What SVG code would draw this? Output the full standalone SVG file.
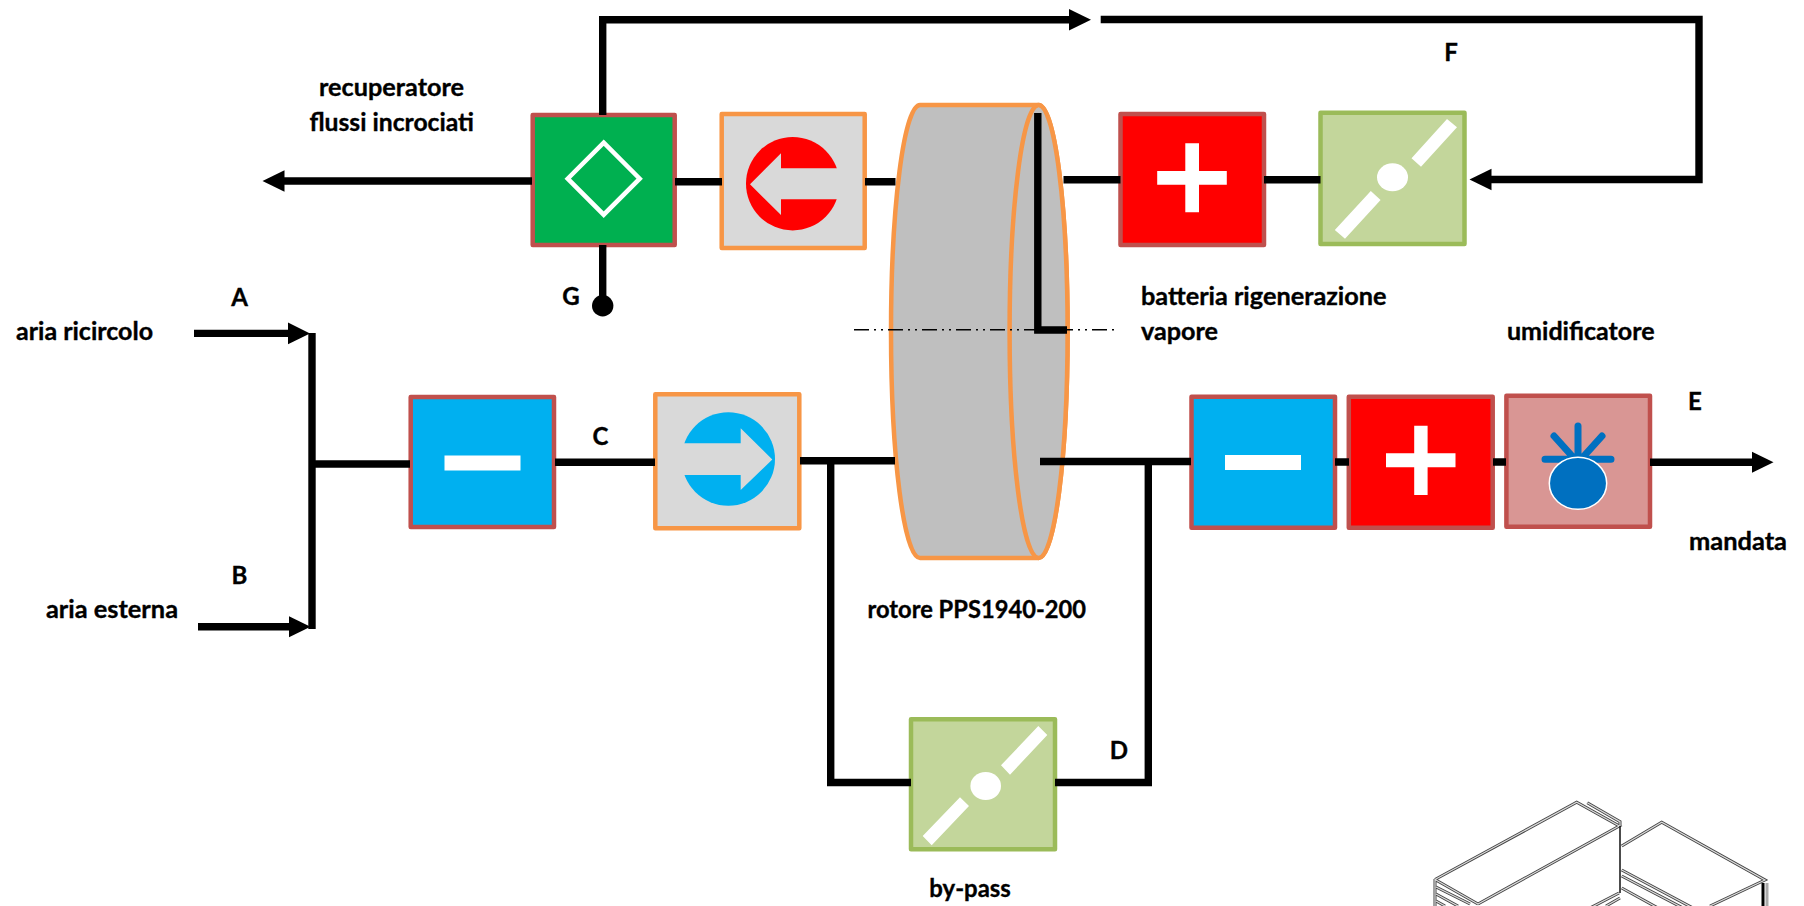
<svg xmlns="http://www.w3.org/2000/svg" width="1804" height="906" viewBox="0 0 1804 906">
<style>
.t{font-family:Lato,"Liberation Sans",sans-serif;font-weight:700;font-size:24px;fill:#000;stroke:#000;stroke-width:.35}
.m{text-anchor:middle}
.c{fill:none;stroke:#000;stroke-width:7.4;stroke-linejoin:miter}
rect{stroke-linejoin:round}
.red{stroke:#C0504D;stroke-width:4.5}
.org{stroke:#F79646;stroke-width:4.5;fill:#D9D9D9}
.grn{stroke:#9BBB59;stroke-width:4.5;fill:#C3D69B}
.w{fill:#fff}
.h{fill:none;stroke:#0070C0;stroke-width:7;stroke-linecap:round}
.iso{fill:none;stroke:#444;stroke-width:3}
.iso2{fill:none;stroke:#ddd;stroke-width:1.2}
</style>
<defs>
<marker id="ah" markerUnits="userSpaceOnUse" markerWidth="23" markerHeight="23" refX="0.5" refY="11.5" orient="auto"><path d="M0,0.7 L22,11.5 L0,22.3 Z" fill="#000"/></marker>
<path id="isoLines" d="M1435,879.5 L1576.7,802.3 L1619.3,826 L1478,904 M1435,879.5 L1478,904 M1587.3,802.7 L1620,821.7 V826 M1435,879 V906 M1436,887 L1470,904 M1436,894 L1458,906 M1436,901 L1445,906 M1621.7,846 L1661.7,822.3 L1765,880 L1710,906 M1621.7,870 L1693,908 M1621.7,876 L1683,908 M1619,893 L1590,908 M1620,898 L1606,906 M1621.7,888 L1658,908"/>
</defs>

<g id="machine"><use href="#isoLines" class="iso"/><use href="#isoLines" class="iso2"/><path d="M1620,826 V893" fill="none" stroke="#111" stroke-width="1.5"/><path d="M1763,883 V906" fill="none" stroke="#000" stroke-width="3"/><path d="M1767,883 V906" fill="none" stroke="#aaa" stroke-width="3"/></g>

<g id="node-recuperatore">
<rect x="532.7" y="115" width="142" height="130" fill="#00B050" class="red"/>
<path d="M603.7,142.7 L639.7,178.7 L603.7,214.7 L567.7,178.7 Z" fill="none" stroke="#fff" stroke-width="4.5"/>
</g>
<g id="node-ventilatore-ripresa">
<rect x="721.7" y="114" width="143" height="134" class="org"/>
<circle cx="792.7" cy="183.7" r="46.7" fill="#f00"/>
<path d="M750,184.3 L781,153.3 V168.3 H845 V199.3 H781 V215 Z" fill="#D9D9D9"/>
</g>
<g id="node-rotore">
<path d="M920,105 H1038.6 A29,226.5 0 0 1 1038.6,558 H920 A29,226.5 0 0 1 920,105 Z" fill="#BFBFBF" stroke="#F79646" stroke-width="4.5"/>
<ellipse cx="1038.6" cy="331.5" rx="29" ry="226.5" fill="#BFBFBF" stroke="#F79646" stroke-width="4.5"/>
</g>
<g id="node-batteria-rigenerazione">
<rect x="1120.5" y="114" width="143.5" height="131" fill="#f00" class="red"/>
<path class="w" d="M1185.3,143.3 H1199 V171 H1226.8 V184.7 H1199 V212.3 H1185.3 V184.7 H1157.2 V171 H1185.3 Z"/>
</g>
<g id="node-serranda-f">
<rect x="1320.5" y="112.7" width="144" height="131.3" class="grn"/>
<ellipse class="w" cx="1392.5" cy="177.3" rx="15.5" ry="14"/>
<path class="w" d="M1447,119 L1457,127.3 L1421,166.7 L1411.5,158.3 Z M1370.8,191 L1380.6,200 L1345,238.7 L1334.8,230 Z"/>
</g>
<g id="node-raffreddamento-1">
<rect x="410.7" y="397" width="143.3" height="130" fill="#00B0F0" class="red"/>
<rect class="w" x="444.5" y="455.5" width="76" height="15"/>
</g>
<g id="node-ventilatore-mandata">
<rect x="655.3" y="394.3" width="144" height="134" class="org"/>
<circle cx="728.3" cy="459" r="46.7" fill="#00B0F0"/>
<path d="M772.3,459.5 L740.7,428.3 V443.3 H680 V475 H740.7 V490 Z" fill="#D9D9D9"/>
</g>
<g id="node-raffreddamento-2">
<rect x="1191.5" y="396.7" width="143.5" height="131" fill="#00B0F0" class="red"/>
<rect class="w" x="1225" y="455" width="76" height="15"/>
</g>
<g id="node-postriscaldamento">
<rect x="1348.8" y="396.7" width="143.9" height="131" fill="#f00" class="red"/>
<path class="w" d="M1414.2,425.7 H1427.6 V453.3 H1455.5 V467.3 H1427.6 V495 H1414.2 V467.3 H1386 V453.3 H1414.2 Z"/>
</g>
<g id="node-umidificatore">
<rect x="1506.4" y="395.7" width="143.6" height="131" fill="#D99694" class="red"/>
<path class="h" d="M1578,426 V456 M1554,436 L1572,456 M1602,436 L1584,456 M1545,459.3 H1611"/>
<ellipse cx="1578" cy="483.3" rx="28.7" ry="26" fill="#0070C0" stroke="#fff" stroke-width="1.5"/>
</g>
<g id="node-bypass">
<rect x="911" y="719.3" width="144" height="130" class="grn"/>
<ellipse class="w" cx="985.7" cy="786" rx="15.3" ry="14"/>
<path class="w" d="M1038.3,726 L1047.3,735 L1010,774.7 L1001,765.3 Z M960,797.3 L969,806 L931.7,845.3 L922.7,836 Z"/>
</g>

<g id="connectors">
<path class="c" d="M194,333.4 H288.5" marker-end="url(#ah)"/>
<path class="c" d="M198,626.7 H289" marker-end="url(#ah)"/>
<path class="c" d="M312,333 V629"/>
<path class="c" d="M312,464 H410"/>
<path class="c" d="M555,462.3 H655"/>
<path class="c" d="M800,460.7 H895"/>
<path class="c" d="M830.7,461 V782.5 H911"/>
<path class="c" d="M1040,461.5 H1191"/>
<path class="c" d="M1148.3,461.5 V782.5 H1055"/>
<path class="c" d="M1335,462 H1349 M1493,462 H1506"/>
<path class="c" d="M1650,462.3 H1752" marker-end="url(#ah)"/>
<path class="c" d="M532,181 H284" marker-end="url(#ah)"/>
<path class="c" d="M675,181.7 H722 M865,181.7 H895.5"/>
<path class="c" d="M1063.5,179.7 H1120.5 M1264,179.7 H1320.5"/>
<path class="c" d="M602.7,115 V19.7 H1069.5" marker-end="url(#ah)"/>
<path class="c" d="M1100.7,19.5 H1699 V179.5 H1491" marker-end="url(#ah)"/>
<path class="c" d="M602.7,245 V296"/>
<circle cx="602.7" cy="305.7" r="10.7" fill="#000"/>
<path d="M854,329.7 H1114" fill="none" stroke="#000" stroke-width="1.5" stroke-dasharray="15 5 2 5 2 5"/>
<path class="c" d="M1037.8,113 V330 H1067"/>
</g>

<g id="labels">
<text class="t" x="319" y="96" textLength="145" lengthAdjust="spacingAndGlyphs">recuperatore</text>
<text class="t" x="309.5" y="131" textLength="164.5" lengthAdjust="spacingAndGlyphs">flussi incrociati</text>
<text class="t m" x="239.5" y="306">A</text>
<text class="t m" x="239.5" y="584">B</text>
<text class="t m" x="600.5" y="445">C</text>
<text class="t m" x="1119" y="759">D</text>
<text class="t m" x="1695" y="410">E</text>
<text class="t m" x="1451" y="61">F</text>
<text class="t m" x="571" y="305">G</text>
<text class="t" x="16" y="340" textLength="137" lengthAdjust="spacingAndGlyphs">aria ricircolo</text>
<text class="t" x="46" y="618" textLength="132" lengthAdjust="spacingAndGlyphs">aria esterna</text>
<text class="t" x="1141" y="305" textLength="245.5" lengthAdjust="spacingAndGlyphs">batteria rigenerazione</text>
<text class="t" x="1141" y="340" textLength="77" lengthAdjust="spacingAndGlyphs">vapore</text>
<text class="t" x="1507" y="340" textLength="147.5" lengthAdjust="spacingAndGlyphs">umidificatore</text>
<text class="t" x="1689" y="550" textLength="98" lengthAdjust="spacingAndGlyphs">mandata</text>
<text class="t" x="867.5" y="618" textLength="218.5" lengthAdjust="spacingAndGlyphs">rotore PPS1940-200</text>
<text class="t" x="929.3" y="897" textLength="81.5" lengthAdjust="spacingAndGlyphs">by-pass</text>
</g>
</svg>
